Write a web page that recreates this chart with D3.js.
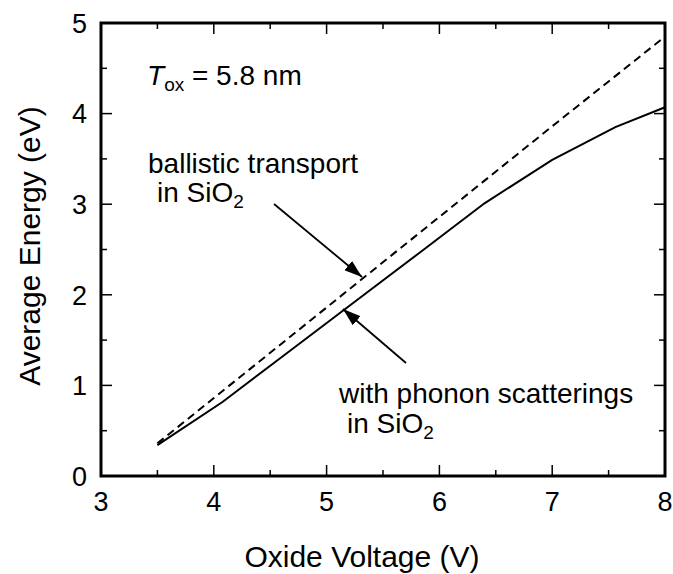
<!DOCTYPE html>
<html>
<head>
<meta charset="utf-8">
<script src="https://cdn.jsdelivr.net/npm/d3@7"></script>
<style>
  body { margin: 0; background: #fff; }
  svg text { font-family: "Liberation Sans", Arial, Helvetica, sans-serif; fill: #000; }
</style>
</head>
<body>
<div id="chart"></div>
<script>
// ---- data ----
const ballisticV = [3.5, 4, 5, 6, 7, 8];
const ballisticE = [0.36, 0.86, 1.86, 2.86, 3.86, 4.85];

const phononV = [3.5, 4.08, 4.6, 5.15, 5.83, 6.4, 7.0, 7.56, 8.0];
const phononE = [0.34, 0.82, 1.31, 1.83, 2.47, 3.01, 3.49, 3.85, 4.07];

const xMajor = [3, 4, 5, 6, 7, 8];
const xMinor = [3.5, 4.5, 5.5, 6.5, 7.5];
const yMajor = [0, 1, 2, 3, 4, 5];
const yMinor = [0.5, 1.5, 2.5, 3.5, 4.5];

// arrows: [fromV, fromE, toV, toE]
const arrows = [
  [4.534, 3.002, 5.314, 2.196],
  [5.704, 1.247, 5.145, 1.843]
];

const width = 673, height = 574;
const margin = { top: 23, right: 8, bottom: 98, left: 101 };

const svg = d3.select("#chart").append("svg")
  .attr("width", width)
  .attr("height", height);

const x = d3.scaleLinear().domain([3, 8]).range([margin.left, width - margin.right]);
const y = d3.scaleLinear().domain([0, 5]).range([height - margin.bottom, margin.top]);

const defs = svg.append("defs");
defs.append("marker")
  .attr("id", "head")
  .attr("viewBox", "0 0 18 12")
  .attr("refX", 18).attr("refY", 6)
  .attr("markerWidth", 18).attr("markerHeight", 12)
  .attr("markerUnits", "userSpaceOnUse")
  .attr("orient", "auto")
  .append("path")
  .attr("d", "M0,0 L18,6 L0,12 Z")
  .attr("fill", "#000");

// ticks on all four sides, pointing inward
const tickG = svg.append("g").attr("stroke", "#000").attr("stroke-width", 1.5);
const x0 = x.range()[0], x1 = x.range()[1], y0 = y.range()[0], y1 = y.range()[1];
[[xMajor, 11], [xMinor, 6]].forEach(([vals, len]) => {
  vals.forEach(v => {
    tickG.append("line").attr("x1", x(v)).attr("x2", x(v)).attr("y1", y0).attr("y2", y0 - len);
    tickG.append("line").attr("x1", x(v)).attr("x2", x(v)).attr("y1", y1).attr("y2", y1 + len);
  });
});
[[yMajor, 11], [yMinor, 6]].forEach(([vals, len]) => {
  vals.forEach(v => {
    tickG.append("line").attr("y1", y(v)).attr("y2", y(v)).attr("x1", x0).attr("x2", x0 + len);
    tickG.append("line").attr("y1", y(v)).attr("y2", y(v)).attr("x1", x1).attr("x2", x1 - len);
  });
});

// frame
svg.append("rect")
  .attr("x", x0).attr("y", y1)
  .attr("width", x1 - x0).attr("height", y0 - y1)
  .attr("fill", "none").attr("stroke", "#000").attr("stroke-width", 3);

// tick labels
svg.selectAll(".xl").data(xMajor).join("text")
  .attr("x", d => x(d)).attr("y", y0 + 35)
  .attr("text-anchor", "middle")
  .attr("font-size", 27)
  .text(d => d);

svg.selectAll(".yl").data(yMajor).join("text")
  .attr("x", x0 - 14).attr("y", d => y(d))
  .attr("dy", "0.36em")
  .attr("text-anchor", "end")
  .attr("font-size", 27)
  .text(d => d);

// axis titles
svg.append("text")
  .attr("x", 362).attr("y", 567)
  .attr("text-anchor", "middle")
  .attr("font-size", 30)
  .text("Oxide Voltage (V)");

svg.append("text")
  .attr("transform", "translate(40," + 246 + ") rotate(-90)")
  .attr("text-anchor", "middle")
  .attr("font-size", 30)
  .text("Average Energy (eV)");

// curves
const line = d3.line().x(d => x(d[0])).y(d => y(d[1]));

svg.append("path")
  .datum(d3.zip(ballisticV, ballisticE))
  .attr("d", line)
  .attr("fill", "none").attr("stroke", "#000")
  .attr("stroke-width", 2)
  .attr("stroke-dasharray", "8,5");

svg.append("path")
  .datum(d3.zip(phononV, phononE))
  .attr("d", line)
  .attr("fill", "none").attr("stroke", "#000")
  .attr("stroke-width", 2);

// arrows
svg.selectAll(".arrow").data(arrows).join("line")
  .attr("x1", d => x(d[0])).attr("y1", d => y(d[1]))
  .attr("x2", d => x(d[2])).attr("y2", d => y(d[3]))
  .attr("stroke", "#000").attr("stroke-width", 1.8)
  .attr("marker-end", "url(#head)");

// annotations
const tox = svg.append("text")
  .attr("x", x(3.408)).attr("y", y(4.316))
  .attr("font-size", 28);
tox.append("tspan").attr("font-style", "italic").text("T");
tox.append("tspan").attr("font-size", 19).attr("dy", 6).text("ox");
tox.append("tspan").attr("dy", -6).text(" = 5.8 nm");

function sio2Label(xv, yv, prefix) {
  const t = svg.append("text").attr("x", x(xv)).attr("y", y(yv)).attr("font-size", 28);
  t.append("tspan").text(prefix + "SiO");
  t.append("tspan").attr("font-size", 19).attr("dy", 6).text("2");
}

svg.append("text")
  .attr("x", x(3.417)).attr("y", y(3.344))
  .attr("font-size", 28)
  .text("ballistic transport");
sio2Label(3.496, 3.024, "in ");

svg.append("text")
  .attr("x", x(5.11)).attr("y", y(0.806))
  .attr("font-size", 28)
  .text("with phonon scatterings");
sio2Label(5.181, 0.475, "in ");
</script>
</body>
</html>
